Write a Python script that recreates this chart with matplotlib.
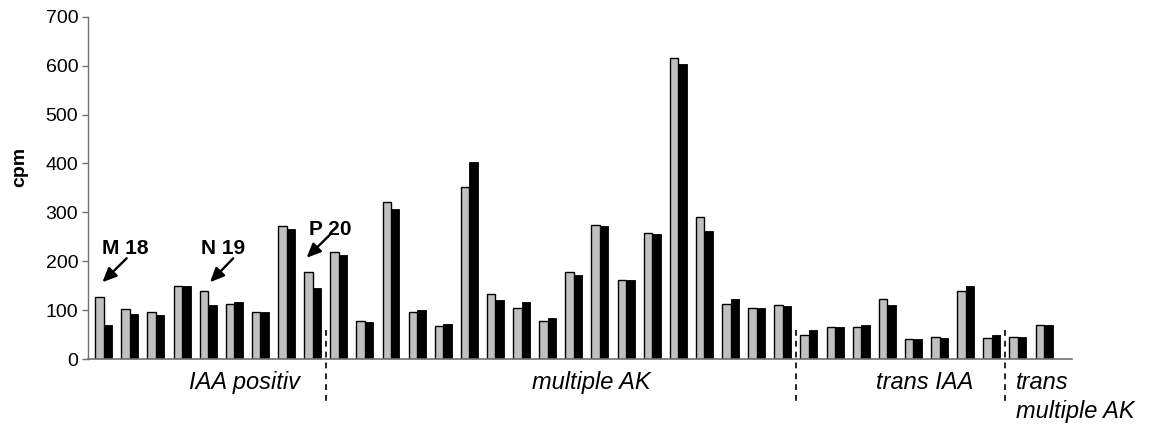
import matplotlib
matplotlib.use("Agg")
import matplotlib.pyplot as plt
import numpy as np

plt.rcParams['font.family'] = ['Liberation Sans', 'DejaVu Sans']

gray_vals = [126, 103, 97, 149, 139, 113, 97, 273, 177,
             219, 78, 322, 97, 68, 351, 132, 104, 78, 177, 274, 162, 258, 616, 290, 113, 104, 110,
             49, 65, 65, 123, 40, 46, 139, 42,
             46, 69]
black_vals = [69, 92, 91, 149, 110, 117, 97, 265, 146,
              213, 75, 307, 100, 72, 403, 120, 117, 84, 171, 271, 162, 255, 603, 262, 123, 104, 108,
              59, 65, 69, 111, 40, 43, 149, 50,
              46, 69]
group_labels = ["IAA positiv", "multiple AK", "trans IAA", "trans\nmultiple AK"]
group_sizes = [9, 18, 8, 2]
yticks = [0, 100, 200, 300, 400, 500, 600, 700]
annot_labels = ["M 18", "N 19", "P 20"]

W, H = 1154, 425
fig = plt.figure(figsize=(W / 100, H / 100), dpi=100)
ax = fig.add_axes([88 / W, 1 - 359 / H, (1072 - 88) / W, (359 - 16.7) / H])

n = len(gray_vals)
x = np.arange(n)
bw = 0.325
ax.bar(x - bw / 2, gray_vals, width=bw, color='#c0c0c0', edgecolor='black', linewidth=1.0, zorder=3)
ax.bar(x + bw / 2, black_vals, width=bw, color='black', edgecolor='black', linewidth=0.6, zorder=3)

ax.set_xlim(-0.6, n + 0.07)
ax.set_ylim(0, 700)
ax.set_yticks(yticks)
ax.set_yticklabels([str(t) for t in yticks], fontsize=14)
ax.set_xticks([])
for s in ['top', 'right']:
    ax.spines[s].set_visible(False)
ax.spines['left'].set_color('#707070')
ax.spines['bottom'].set_color('#707070')
ax.spines['left'].set_linewidth(1.0)
ax.spines['bottom'].set_linewidth(1.2)
ax.spines['bottom'].set_zorder(4)
ax.tick_params(axis='y', colors='#707070', length=4, width=1.0, labelcolor='black', pad=3)
ax.set_ylabel('cpm', fontsize=14, fontweight='bold')
ax.yaxis.set_label_coords(-0.061, 0.56)

# group separators
bounds = np.cumsum(group_sizes)[:-1]
for b in bounds:
    ax.plot([b - 0.5, b - 0.5], [60, -90], color='black', linestyle=(0, (3.5, 3)),
            linewidth=1.2, clip_on=False, zorder=5)

# group labels
label_x = [5.4, 18.67, 31.42]
for i, lab in enumerate(group_labels[:3]):
    ax.text(label_x[i], -49, lab, fontsize=17, style='italic', ha='center', va='center',
            clip_on=False)
l1, l2 = group_labels[3].split("\n")
ax.text(34.93, -49, l1, fontsize=17, style='italic', ha='left', va='center', clip_on=False)
ax.text(34.93, -107, l2, fontsize=17, style='italic', ha='left', va='center', clip_on=False)

# annotations
text_pos = [(0.82, 226), (4.57, 226), (8.66, 264)]
arrow_tail = [(0.88, 206), (4.96, 206), (8.66, 254)]
arrow_head = [(-0.05, 157), (4.07, 157), (7.77, 207)]
for lab, tp, tl, hd in zip(annot_labels, text_pos, arrow_tail, arrow_head):
    ax.text(tp[0], tp[1], lab, fontsize=15, fontweight='bold', ha='center', va='center', zorder=6)
    ax.annotate('', xy=hd, xytext=tl,
                arrowprops=dict(arrowstyle='-|>,head_length=0.85,head_width=0.38',
                                color='black', lw=1.7, shrinkA=0, shrinkB=0), zorder=6)

fig.savefig('out.png', dpi=100)
